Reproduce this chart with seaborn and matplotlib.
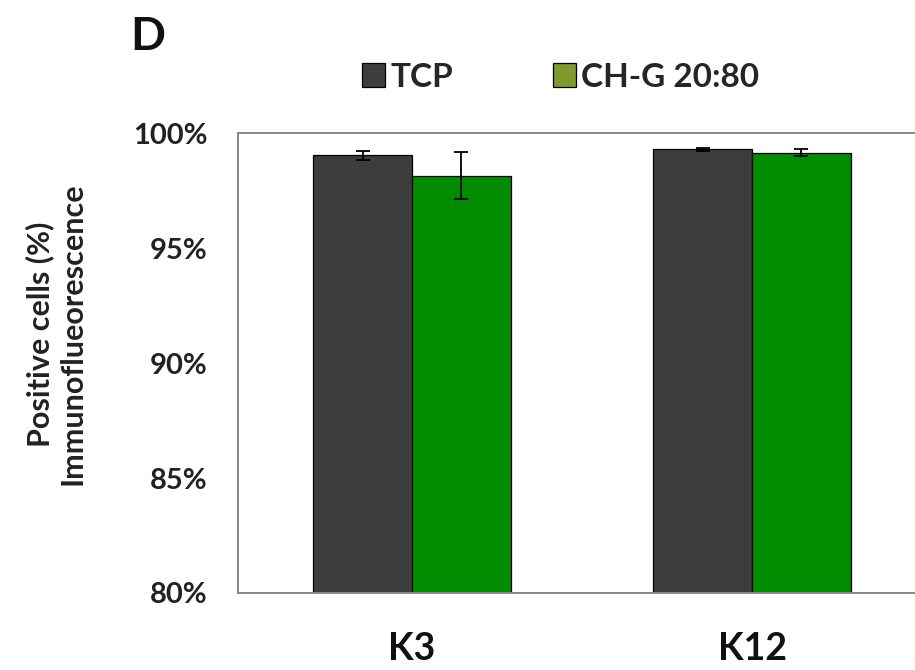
import matplotlib
matplotlib.use("Agg")
import matplotlib.pyplot as plt
import matplotlib.patches as mpatches
import seaborn as sns
import pandas as pd

# Valeurs (% de cellules positives)
markers = ["K3", "K12"]
groups = ["TCP", "CH-G 20:80"]
tcp_values = [99.05, 99.3]
tcp_errors = [0.2, 0.05]
chg_values = [98.15, 99.15]
chg_errors = [1.02, 0.15]
y_ticks = [80, 85, 90, 95, 100]

bar_colors = {"TCP": "#3d3d3d", "CH-G 20:80": "#008c00"}
legend_colors = {"TCP": "#3d3d3d", "CH-G 20:80": "#7f9a2e"}

df = pd.DataFrame({
    "marker": markers * 2,
    "group": [groups[0]] * len(markers) + [groups[1]] * len(markers),
    "value": tcp_values + chg_values,
    "err": tcp_errors + chg_errors,
})

sns.set_theme(style="white")
plt.rcParams["font.family"] = ["Lato", "DejaVu Sans"]

fig = plt.figure(figsize=(9.15, 6.7), dpi=100)
ax = fig.add_axes([0.260, 0.115, 0.74, 0.686])

sns.barplot(data=df, x="marker", y="value", hue="group", order=markers,
            hue_order=groups, palette=bar_colors, width=0.58, saturation=1,
            edgecolor="black", linewidth=0.9, errorbar=None, legend=False, ax=ax)

# barres d'erreur placées sur chaque rectangle
bars = [p for p in ax.patches if isinstance(p, mpatches.Rectangle)]
for bar, (_, row) in zip(bars, df.iterrows()):
    cx = bar.get_x() + bar.get_width() / 2
    ax.errorbar(cx, row["value"], yerr=row["err"], color="black",
                capsize=5, elinewidth=1.3, capthick=1.3, zorder=5)

ax.set_ylim(80, 100)
ax.set_xlim(-0.512, 1.479)
ax.set_yticks(y_ticks)
ax.set_yticklabels([f"{t}%" for t in y_ticks], fontsize=21, color="#222222",
                   fontweight="bold")
ax.set_xticks(range(len(markers)))
ax.set_xticklabels(markers, fontsize=27, fontweight="bold", color="#111111")
ax.tick_params(axis="x", length=0, pad=28)
ax.tick_params(axis="y", length=6, direction="out", color="#888888", width=1.2, pad=16)
ax.set_xlabel("")
ax.set_ylabel("Positive cells (%)\nImmunoflueorescence", fontsize=22,
              fontweight="bold", color="#222222", linespacing=1.2)
ax.yaxis.set_label_coords(-0.223, 0.563)

for side in ["left", "bottom", "top"]:
    ax.spines[side].set_visible(True)
    ax.spines[side].set_color("#888888")
    ax.spines[side].set_linewidth(1.4)
ax.spines["right"].set_visible(False)

handles = [mpatches.Patch(facecolor=legend_colors[g], edgecolor="black",
                          linewidth=0.9, label=g) for g in groups]
fig.legend(handles=handles, loc="center left", bbox_to_anchor=(0.3956, 0.885),
           ncol=2, frameon=False, borderpad=0, borderaxespad=0,
           handlelength=0.7, handleheight=0.7, handletextpad=0.15,
           columnspacing=3.0, prop={"weight": "bold", "size": 24})

fig.text(0.142, 0.925, "D", fontsize=33, fontweight="bold", color="#111111",
         ha="left", va="baseline")

fig.savefig("out.png", dpi=100)
